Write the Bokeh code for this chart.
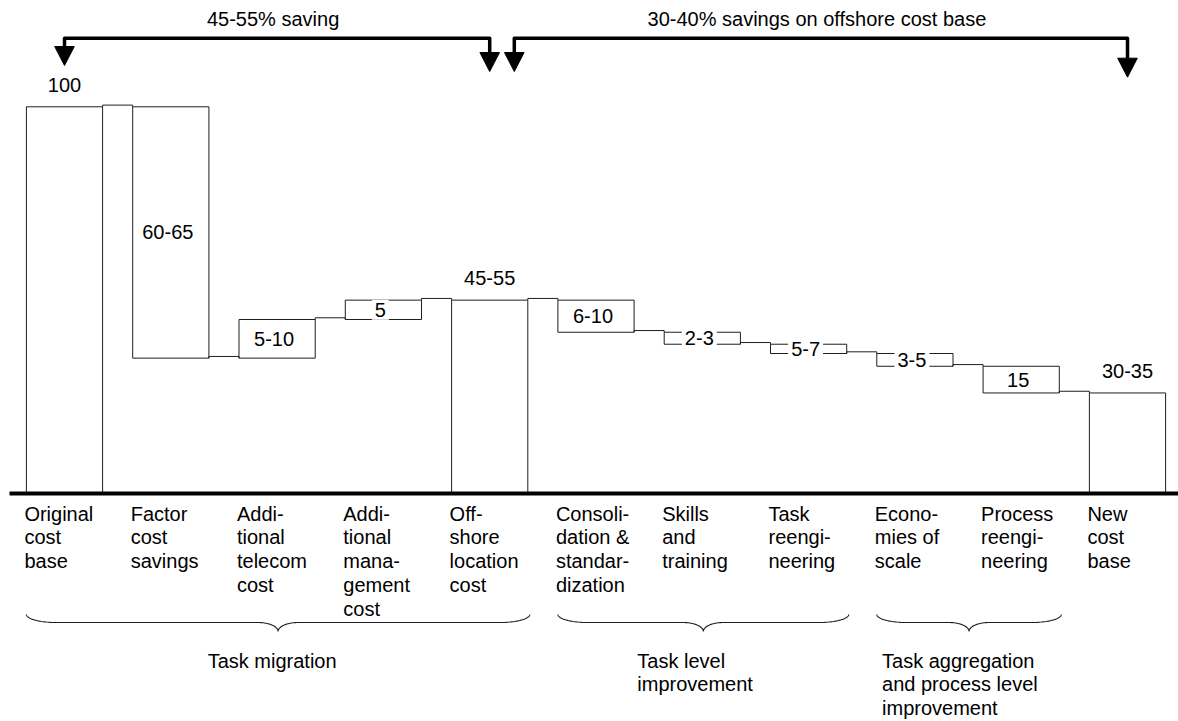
import numpy as np
from bokeh.plotting import figure
from bokeh.models import Range1d, ColumnDataSource, LabelSet, Label
from bokeh.core.properties import value
from bokeh.embed import file_html
from bokeh.resources import INLINE

# ---------------- data ----------------
categories = ["Original\ncost\nbase", "Factor\ncost\nsavings", "Addi-\ntional\ntelecom\ncost",
              "Addi-\ntional\nmana-\ngement\ncost", "Off-\nshore\nlocation\ncost",
              "Consoli-\ndation &\nstandar-\ndization", "Skills\nand\ntraining",
              "Task\nreengi-\nneering", "Econo-\nmies of\nscale", "Process\nreengi-\nneering",
              "New\ncost\nbase"]
start_value = 100
changes = [None, -65, 10, 5, None, -8.3, -3.1, -2.4, -3.3, -6.9, None]   # None = (sub)total bar
value_labels = ["100", "60-65", "5-10", "5", "45-55", "6-10", "2-3", "5-7", "3-5", "15", "30-35"]

groups = ["Task migration", "Task level\nimprovement", "Task aggregation\nand process level\nimprovement"]
group_first = [0, 5, 8]
group_last = [4, 7, 9]

savings_text = ["45-55% saving", "30-40% savings on offshore cost base"]
savings_from = [0, 4]
savings_to = [4, 10]

# ---------------- layout constants ----------------
FONT = "Liberation Sans"
FS = "20px"
LC = "#1e1e1e"
W, H = 1178, 721
PXX = 106.3          # px per category
PXY = 3.867          # px per value unit
BASE_PAGE_Y = 493.0  # y of the zero line
C0_PAGE_X = 64.0     # x of first category centre
BW = 0.717           # box width in category units
LH = 1.085           # text line height

x_start = -C0_PAGE_X / PXX
x_end = x_start + W / PXX
y_top = BASE_PAGE_Y / PXY
y_bot = y_top - H / PXY

def Y(py):
    return (BASE_PAGE_Y - py) / PXY

def dx(px):
    return px / PXX

def dy(px):
    return px / PXY

# ---------------- waterfall geometry ----------------
n = len(categories)
idx = np.arange(n, dtype=float)
bottoms, tops, ends = [], [], []
level = start_value
for i in range(n):
    if changes[i] is None:
        if i == 0:
            level = start_value
        bottoms.append(0.0)
        tops.append(level)
    else:
        new = level + changes[i]
        bottoms.append(min(level, new))
        tops.append(max(level, new))
        level = new
    ends.append(level)

p = figure(width=W, height=H, x_range=Range1d(x_start, x_end), y_range=Range1d(y_bot, y_top),
           output_backend="svg", toolbar_location=None, x_axis_type=None, y_axis_type=None,
           min_border=0, min_border_left=0, min_border_right=0, min_border_top=0, min_border_bottom=0)
p.grid.visible = False
p.outline_line_color = None
p.background_fill_color = "white"
p.border_fill_color = "white"

bars = ColumnDataSource(dict(left=idx - BW / 2, right=idx + BW / 2, bottom=bottoms, top=tops))
p.quad(left="left", right="right", bottom="bottom", top="top", source=bars,
       fill_color="white", line_color=LC, line_width=1)

# connectors
bump = dy(1.7)
cxs, cys = [], []
for i in range(n - 1):
    L = ends[i]
    a, b = i + BW / 2, i + 1 - BW / 2
    cxs.append([a, a, b, b])
    cys.append([L, L + bump, L + bump, L])
p.multi_line(cxs, cys, line_color=LC, line_width=1)

# baseline
p.segment(x0=[x_start + dx(9)], y0=[0], x1=[x_end], y1=[0], line_color="black", line_width=4)

# category labels
cat_src = ColumnDataSource(dict(x=idx - BW / 2, y=np.zeros(n), text=categories))
p.add_layout(LabelSet(x="x", y="y", text="text", source=cat_src, x_offset=-2, y_offset=-9,
                      text_font=value(FONT), text_font_size=value(FS), text_color="black",
                      text_align="left", text_baseline="top", text_line_height=LH))

# value labels
for i in range(n):
    if changes[i] is None:
        p.add_layout(Label(x=i, y=tops[i], y_offset=22, text=value_labels[i], text_font=FONT,
                           text_font_size=FS, text_color="black", text_align="center",
                           text_baseline="middle"))
    else:
        p.add_layout(Label(x=i, y=(bottoms[i] + tops[i]) / 2, x_offset=-3, text=value_labels[i],
                           text_font=FONT, text_font_size=FS, text_color="black",
                           text_align="center", text_baseline="middle",
                           background_fill_color="white", padding=3))

# savings brackets with arrows
bracket_y = Y(37.7)
left_shift = [0.0, dx(24.6)]
tip_left = [65.0, 71.0]
tip_right = [71.0, 76.7]
head_h = dy(19)
head_w = dx(9.8)
bxs, bys, txs, tys = [], [], [], []
for k in range(len(savings_text)):
    xa = savings_from[k] + left_shift[k]
    xb = savings_to[k]
    ya, yb = Y(tip_left[k]), Y(tip_right[k])
    bxs.append([xa, xa, xb, xb])
    bys.append([ya + head_h, bracket_y, bracket_y, yb + head_h])
    for xt, yt in ((xa, ya), (xb, yb)):
        txs.append([xt - head_w, xt + head_w, xt])
        tys.append([yt + head_h, yt + head_h, yt])
    p.add_layout(Label(x=(xa + xb) / 2, y=Y(18), x_offset=-4, text=savings_text[k], text_font=FONT,
                       text_font_size=FS, text_color="black", text_align="center",
                       text_baseline="middle"))
p.multi_line(bxs, bys, line_color="black", line_width=3.5, line_join="round")
p.patches(txs, tys, fill_color="black", line_color="black", line_width=1)

# braces
b_top, b_mid, b_tip = Y(614), Y(622), Y(631)
r1, r2 = dx(30), dx(20)
t = np.linspace(0, np.pi / 2, 25)
brx, bry = [], []
for g in range(len(groups)):
    x0 = group_first[g] - BW / 2
    x1 = group_last[g] + BW / 2 + dx(2)
    xc = (x0 + x1) / 2
    xs = list(x0 + r1 - r1 * np.cos(t))
    ys = list(b_top + (b_mid - b_top) * np.sin(t))
    xs += list(xc - r2 + r2 * np.sin(t))
    ys += list(b_mid + (b_tip - b_mid) * (1 - np.cos(t)))
    xs_r = [2 * xc - v for v in xs[::-1]]
    ys_r = ys[::-1]
    brx.append(xs + xs_r)
    bry.append(ys + ys_r)
p.multi_line(brx, bry, line_color=LC, line_width=1.1)

# group labels
grp_align = ["center", "left", "left"]
grp_offset = [-6, -66, -87]
for g in range(len(groups)):
    xc = (group_first[g] - BW / 2 + group_last[g] + BW / 2 + dx(2)) / 2
    p.add_layout(Label(x=xc, y=Y(649), x_offset=grp_offset[g], text=groups[g], text_font=FONT,
                       text_font_size=FS, text_color="black", text_align=grp_align[g],
                       text_baseline="top", text_line_height=LH))

open("out.html", "w").write(file_html(p, INLINE))
